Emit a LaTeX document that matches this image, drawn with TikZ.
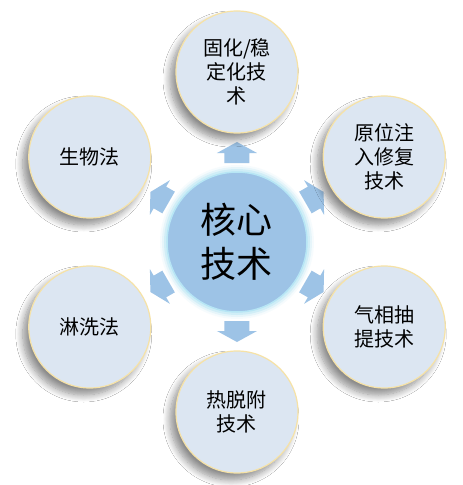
\documentclass[tikz,border=0pt]{standalone}
\usepackage{fontspec}
\newfontfamily\cjk{Noto Sans CJK SC}
\usetikzlibrary{shadows.blur}
\definecolor{outerfill}{HTML}{DCE6F2}
\definecolor{outerline}{HTML}{F6E2A6}
\definecolor{corefill}{HTML}{9DC3E6}
\definecolor{coreline}{HTML}{B7E6F5}
\definecolor{arrowc}{HTML}{9DC3E6}
\tikzset{
  outer/.style={circle, minimum size=122pt, inner sep=0pt, fill=outerfill,
    draw=outerline, line width=1.2pt, align=center,
    font=\cjk\fontsize{20}{24}\selectfont,
    blur shadow={shadow xshift=-6pt, shadow yshift=-7pt, shadow blur radius=7pt,
      shadow blur steps=10, shadow opacity=45}},
  core/.style={circle, minimum size=140pt, inner sep=0pt, fill=corefill,
    draw=coreline, line width=1.5pt, align=center,
    font=\cjk\fontsize{36}{44}\selectfont},
  blockarrow/.style={fill=arrowc}
}
\begin{document}
\begin{tikzpicture}[x=1pt,y=1pt]
\useasboundingbox (-237,-243) rectangle (226,242);
\fill[white] (-237,-243) rectangle (226,242);
% glow of core
\foreach \r/\o in {77/0.12,75/0.25,73/0.45}
  \fill[coreline, opacity=\o] (0,0) circle (\r);
\node[core] (c) at (0,0) {核心\\技术};
% block arrows
\foreach \a in {30,90,150,210,270,330}
  \fill[blockarrow, rotate=\a] (79,-12.5) -- (89,-12.5) -- (89,-20) -- (100,0)
     -- (89,20) -- (89,12.5) -- (79,12.5) -- cycle;
% outer circles
\node[outer] (n1) at (90:170) {固化/稳\\定化技\\术};
\node[outer] (n2) at (30:170) {原位注\\入修复\\技术};
\node[outer] (n3) at (-30:170) {气相抽\\提技术};
\node[outer] (n4) at (-90:170) {热脱附\\技术};
\node[outer] (n5) at (210:170) {淋洗法};
\node[outer] (n6) at (150:170) {生物法};
\end{tikzpicture}
\end{document}
